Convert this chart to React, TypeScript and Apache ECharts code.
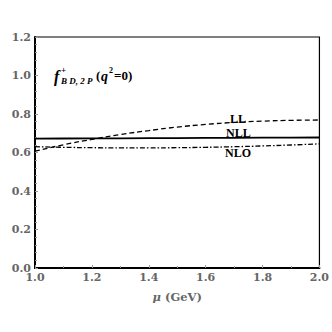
import React, { useEffect, useRef } from "react";
import * as echarts from "echarts";

const mu = [1.0, 1.1, 1.2, 1.3, 1.4, 1.5, 1.6, 1.7, 1.8, 1.9, 2.0];
const llValues = [0.607, 0.64, 0.668, 0.693, 0.714, 0.732, 0.746, 0.756, 0.763, 0.767, 0.769];
const nllValues = [0.672, 0.6726, 0.6732, 0.6738, 0.6744, 0.675, 0.6756, 0.6762, 0.6768, 0.6774, 0.678];
const nloValues = [0.63, 0.627, 0.625, 0.624, 0.624, 0.625, 0.627, 0.63, 0.634, 0.639, 0.645];
const xTicks = ["1.0", "1.2", "1.4", "1.6", "1.8", "2.0"];
const yTicks = ["0.0", "0.2", "0.4", "0.6", "0.8", "1.0", "1.2"];

const pairs = (ys: number[]) => mu.map((x, i) => [x, ys[i]]);
const font = "DejaVu Serif";
const tfont = "Liberation Serif";

export default function App() {
  const ref = useRef<HTMLDivElement>(null);
  useEffect(() => {
    const chart = echarts.init(ref.current!, null, { renderer: "svg" });
    const axisLabel = { color: "#666", fontFamily: font, fontWeight: "bold" as const, fontSize: 11 };
    const bold = { fontFamily: tfont, fontWeight: "bold" as const, fill: "#000" };
    chart.setOption({
      animation: false,
      backgroundColor: "#fff",
      grid: { left: 35, right: 10, top: 37, bottom: 64, show: true, borderColor: "#000", borderWidth: 1.2 },
      xAxis: {
        type: "value",
        min: 1.0,
        max: 2.0,
        interval: 0.2,
        name: "{mu|μ} (GeV)",
        nameLocation: "middle",
        nameGap: 23,
        nameTextStyle: {
          color: "#666", fontFamily: font, fontWeight: "bold", fontSize: 11.5,
          rich: { mu: { color: "#666", fontFamily: font, fontStyle: "italic", fontWeight: "bold", fontSize: 11.5 } },
        },
        axisLine: { lineStyle: { color: "#000", width: 2 } },
        axisTick: { inside: true, length: 3, lineStyle: { color: "#999" } },
        minorTick: { show: true, splitNumber: 2, length: 2, lineStyle: { color: "#999" } },
        splitLine: { show: false },
        axisLabel: { ...axisLabel, margin: 4, formatter: (v: number) => xTicks.find((t) => Math.abs(parseFloat(t) - v) < 1e-6) ?? "" },
      },
      yAxis: {
        type: "value",
        min: 0,
        max: 1.2,
        interval: 0.2,
        axisLine: { show: true, lineStyle: { color: "#000", width: 2 } },
        axisTick: { show: true, inside: true, length: 3, lineStyle: { color: "#999" } },
        minorTick: { show: true, splitNumber: 5, length: 2, lineStyle: { color: "#999" } },
        splitLine: { show: false },
        axisLabel: { ...axisLabel, margin: 4, formatter: (v: number) => yTicks.find((t) => Math.abs(parseFloat(t) - v) < 1e-6) ?? "" },
      },
      series: [
        {
          name: "LL",
          type: "line",
          data: pairs(llValues),
          smooth: true,
          showSymbol: false,
          lineStyle: { color: "#000", width: 1.3, type: [5, 3] },
        },
        {
          name: "NLL",
          type: "line",
          data: pairs(nllValues),
          showSymbol: false,
          lineStyle: { color: "#000", width: 1.8 },
        },
        {
          name: "NLO",
          type: "line",
          data: pairs(nloValues),
          smooth: true,
          showSymbol: false,
          lineStyle: { color: "#000", width: 1.3, type: [5, 2, 1.5, 2] },
        },
      ],
      graphic: [
        { type: "text", x: 54, y: 68, style: { ...bold, text: "f", fontStyle: "italic", fontSize: 16 } },
        { type: "text", x: 61, y: 65, style: { ...bold, text: "+", fontSize: 9 } },
        { type: "text", x: 61, y: 76, style: { ...bold, text: "B D, 2 P", fontStyle: "italic", fontSize: 9 } },
        { type: "text", x: 96, y: 69, style: { ...bold, text: "(", fontSize: 13 } },
        { type: "text", x: 101, y: 69, style: { ...bold, text: "q", fontStyle: "italic", fontSize: 14 } },
        { type: "text", x: 109, y: 66, style: { ...bold, text: "2", fontSize: 8 } },
        { type: "text", x: 114, y: 69, style: { ...bold, text: "=0)", fontSize: 13 } },
        { type: "text", x: 230, y: 113, style: { ...bold, text: "LL", fontSize: 12 } },
        { type: "text", x: 226, y: 127, style: { ...bold, text: "NLL", fontSize: 12 } },
        { type: "text", x: 225, y: 147, style: { ...bold, text: "NLO", fontSize: 12 } },
      ],
    });
    return () => chart.dispose();
  }, []);
  return <div ref={ref} style={{ position: "absolute", left: 0, top: 0, width: 332, height: 332 }} />;
}
